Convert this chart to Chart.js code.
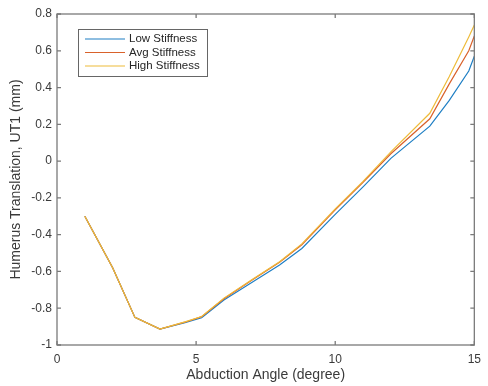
<!DOCTYPE html>
<html>
<head>
<meta charset="utf-8">
<script src="https://cdn.jsdelivr.net/npm/chart.js@4"></script>
<style>
  html, body { margin: 0; padding: 0; background: #fff; }
  #wrap { width: 488px; height: 386px; }
</style>
</head>
<body>
<div id="wrap"><canvas id="chart" width="488" height="386"></canvas></div>
<script>
// abduction angle (degree)
const angles = [1, 2, 2.8, 3.7, 4.6, 5.2, 6, 7, 8, 8.8, 10, 11, 12, 13.4, 14.1, 14.8, 15];
// humerus translation UT1 (mm)
const lowStiffness  = [-0.30, -0.58, -0.85, -0.913, -0.878, -0.852, -0.755, -0.66, -0.565, -0.475, -0.29, -0.14, 0.015, 0.19, 0.33, 0.49, 0.57];
const avgStiffness  = [-0.30, -0.58, -0.85, -0.913, -0.876, -0.846, -0.748, -0.648, -0.55, -0.455, -0.265, -0.115, 0.04, 0.23, 0.42, 0.60, 0.68];
const highStiffness = [-0.30, -0.58, -0.85, -0.913, -0.874, -0.845, -0.745, -0.645, -0.547, -0.45, -0.26, -0.11, 0.05, 0.26, 0.46, 0.675, 0.74];
const seriesNames = ['Low Stiffness', 'Avg Stiffness', 'High Stiffness'];
const xTicks = [0, 5, 10, 15];
const yTicks = [-1, -0.8, -0.6, -0.4, -0.2, 0, 0.2, 0.4, 0.6, 0.8];

const colors = ['#1f7fc4', '#d9622b', '#eebb3a'];
const FONT = "'Liberation Sans', Arial, sans-serif";

function toPoints(ys) {
    return angles.map((a, i) => ({ x: a, y: ys[i] }));
}

// box around the axes, inward ticks, legend
const matlabAxes = {
    id: 'matlabAxes',
    afterDatasetsDraw(chart) {
        const ctx = chart.ctx;
        const a = chart.chartArea;
        const xs = chart.scales.x;
        const ys = chart.scales.y;
        ctx.save();
        ctx.strokeStyle = '#7a7a7a';
        ctx.lineWidth = 1.3;
        ctx.strokeRect(a.left, a.top, a.right - a.left, a.bottom - a.top);
        ctx.beginPath();
        xTicks.forEach(t => {
            const px = xs.getPixelForValue(t);
            ctx.moveTo(px, a.bottom); ctx.lineTo(px, a.bottom - 4);
            ctx.moveTo(px, a.top); ctx.lineTo(px, a.top + 4);
        });
        yTicks.forEach(t => {
            const py = ys.getPixelForValue(t);
            ctx.moveTo(a.left, py); ctx.lineTo(a.left + 4, py);
            ctx.moveTo(a.right, py); ctx.lineTo(a.right - 4, py);
        });
        ctx.stroke();

        // legend
        const bx = a.left + 21, by = a.top + 15, bw = 129, bh = 47;
        ctx.fillStyle = '#fff';
        ctx.fillRect(bx, by, bw, bh);
        ctx.strokeStyle = '#666';
        ctx.lineWidth = 1;
        ctx.strokeRect(bx + 0.5, by + 0.5, bw, bh);
        ctx.font = '11.5px ' + FONT;
        ctx.textBaseline = 'middle';
        chart.data.datasets.forEach((ds, i) => {
            const ly = by + 10 + i * 13.5;
            ctx.strokeStyle = ds.borderColor;
            ctx.lineWidth = 1.2;
            ctx.beginPath();
            ctx.moveTo(bx + 7, ly); ctx.lineTo(bx + 47, ly);
            ctx.stroke();
            ctx.fillStyle = '#262626';
            ctx.fillText(ds.label, bx + 51, ly);
        });
        ctx.restore();
    }
};

new Chart(document.getElementById('chart').getContext('2d'), {
    type: 'line',
    data: {
        datasets: [lowStiffness, avgStiffness, highStiffness].map((ys, i) => ({
            label: seriesNames[i],
            data: toPoints(ys),
            borderColor: colors[i],
            backgroundColor: colors[i],
            borderWidth: 1.2,
            pointRadius: 0,
            tension: 0,
            fill: false,
            order: 3 - i // later series drawn on top, like MATLAB
        }))
    },
    options: {
        responsive: false,
        animation: false,
        layout: { autoPadding: false, padding: { left: 0, right: 6, top: 14, bottom: 0 } },
        plugins: { legend: { display: false }, tooltip: { enabled: false } },
        scales: {
            x: {
                type: 'linear',
                min: 0, max: 15,
                afterFit(scale) { scale.height = 41; },
                afterBuildTicks(scale) { scale.ticks = xTicks.map(v => ({ value: v })); },
                grid: { display: false, drawTicks: false },
                border: { display: false },
                ticks: { padding: 7, color: '#3a3a3a', font: { family: FONT, size: 12 }, maxRotation: 0 },
                title: { display: true, text: 'Abduction Angle (degree)', color: '#3a3a3a',
                         font: { family: FONT, size: 14 }, padding: { bottom: 2 } }
            },
            y: {
                min: -1, max: 0.8,
                afterFit(scale) { scale.width = 57; },
                afterBuildTicks(scale) { scale.ticks = yTicks.map(v => ({ value: v })); },
                grid: { display: false, drawTicks: false },
                border: { display: false },
                ticks: { padding: 5, color: '#3a3a3a', font: { family: FONT, size: 12 },
                         callback: v => String(Math.round(v * 10) / 10) },
                title: { display: true, text: 'Humerus Translation, UT1 (mm)', color: '#3a3a3a',
                         font: { family: FONT, size: 14 }, padding: { top: 8 } }
            }
        }
    },
    plugins: [matlabAxes]
});
</script>
</body>
</html>
